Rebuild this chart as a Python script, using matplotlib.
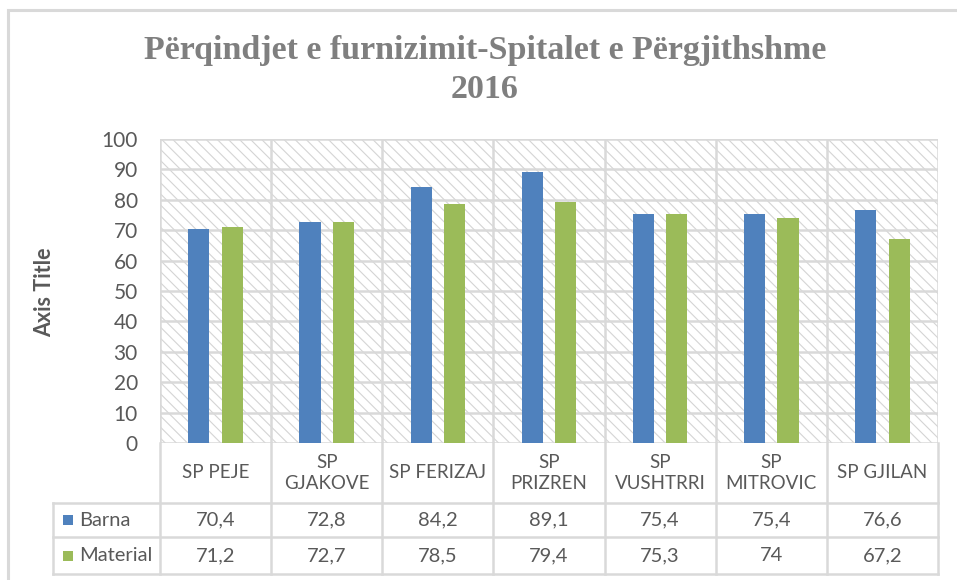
import matplotlib
matplotlib.use("Agg")
import matplotlib.pyplot as plt
import matplotlib.transforms as mtransforms
from matplotlib.patches import Rectangle
import numpy as np

# data
categories = ["SP PEJE", "SP\nGJAKOVE", "SP FERIZAJ", "SP\nPRIZREN",
              "SP\nVUSHTRRI", "SP\nMITROVIC", "SP GJILAN"]
barna = [70.4, 72.8, 84.2, 89.1, 75.4, 75.4, 76.6]
material = [71.2, 72.7, 78.5, 79.4, 75.3, 74, 67.2]
series_names = ["Barna", "Material"]
y_ticks = [0, 10, 20, 30, 40, 50, 60, 70, 80, 90, 100]

BLUE = "#4f81bd"
GREEN = "#9bbb59"
GRID = "#d9d9d9"
TXT = "#595959"

W, H = 957, 580
plt.rcParams['font.family'] = ['Lato', 'DejaVu Sans']
plt.rcParams['hatch.color'] = "#d4d4d4"
plt.rcParams['hatch.linewidth'] = 0.8

fig = plt.figure(figsize=(W / 100, H / 100), dpi=100)

def fx(px):
  return px / W

def fy(py):
  return 1 - py / H

# outer chart frame
fig.add_artist(Rectangle((fx(8), fy(1000)), 2, fy(10) - fy(1000),
                         transform=fig.transFigure, fill=False,
                         edgecolor=GRID, lw=2.2))

ax = fig.add_axes([fx(160), fy(443), fx(938) - fx(160), fy(139) - fy(443)])
ax.set_xlim(-0.5, 6.5)
ax.set_ylim(0, 100)

# hatched background
ax.add_patch(Rectangle((0, 0), 1, 1, transform=ax.transAxes, facecolor="white",
                       edgecolor="#d4d4d4", hatch="\\" * 3, lw=0, zorder=0))

x = np.arange(len(categories))
bw = 0.19
off = 0.15
ax.bar(x - off, barna, bw, color=BLUE, zorder=3)
ax.bar(x + off, material, bw, color=GREEN, zorder=3)

# grid
for v in y_ticks:
  ax.axhline(v, color=GRID, lw=1.8, zorder=1)
for b in np.arange(-0.5, 7, 1):
  ax.axvline(b, color=GRID, lw=1.8, zorder=1)

for s in ax.spines.values():
  s.set_visible(False)
ax.set_xticks([])
ax.set_yticks(y_ticks)
ax.tick_params(axis="y", length=0, pad=16, labelsize=15, labelcolor=TXT)
ax.set_ylabel("Axis Title", fontsize=15.5, fontweight="bold", color=TXT)
ax.yaxis.set_label_coords((55 - 160) / 778, (443 - 292) / 304)

# data table under the axes
tr = mtransforms.blended_transform_factory(ax.transData, ax.transAxes)
ah = 443 - 139
r0 = 0
r1 = -(503 - 443) / ah
r2 = -(537 - 443) / ah
r3 = -(574 - 443) / ah
left = -0.5 - (160 - 53) / 111.1

def hline(x0, x1, y):
  ax.plot([x0, x1], [y, y], color=GRID, lw=1.8, transform=tr, clip_on=False)

def vline(xv, y0, y1):
  ax.plot([xv, xv], [y0, y1], color=GRID, lw=1.8, transform=tr, clip_on=False)

hline(left, 6.5, r1)
hline(left, 6.5, r2)
hline(left, 6.5, r3)
for b in np.arange(-0.5, 7, 1):
  vline(b, r3, r0)
vline(left, r3, r1)

for i, c in enumerate(categories):
  ax.text(i, (r0 + r1) / 2, c, transform=tr, ha="center", va="center",
          fontsize=13.5, color=TXT, linespacing=1.3)
  ax.text(i, (r1 + r2) / 2, f"{barna[i]:g}".replace(".", ","), transform=tr,
          ha="center", va="center", fontsize=14.5, color=TXT)
  ax.text(i, (r2 + r3) / 2, f"{material[i]:g}".replace(".", ","), transform=tr,
          ha="center", va="center", fontsize=14.5, color=TXT)

sq = 10 / ah
for name, col, (ya, yb) in zip(series_names, [BLUE, GREEN], [(r1, r2), (r2, r3)]):
  ym = (ya + yb) / 2
  ax.add_patch(Rectangle((left + 10 / 111.1, ym - sq / 2), 10 / 111.1, sq,
                         transform=tr, facecolor=col, edgecolor="none",
                         clip_on=False))
  ax.text(left + 26 / 111.1, ym, name, transform=tr, ha="left", va="center",
          fontsize=14.5, color=TXT)

# title
fig.text(fx(485), fy(70), "Përqindjet e furnizimit-Spitalet e Përgjithshme\n2016",
         ha="center", va="center", fontsize=24.5, fontweight="bold",
         color="#7f7f7f", family="Liberation Serif", linespacing=1.3)

fig.savefig("out.png", dpi=100)
